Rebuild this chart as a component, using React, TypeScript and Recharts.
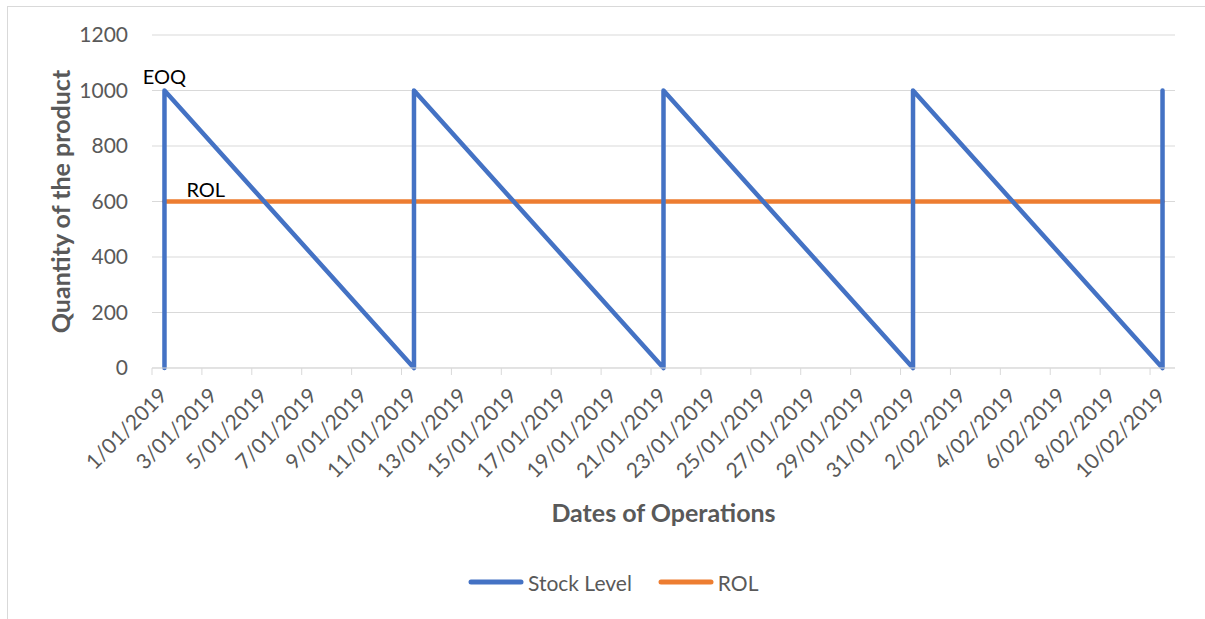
import React from "react";
import { LineChart, Line, XAxis, YAxis, CartesianGrid, ReferenceDot } from "recharts";

// day index 0 = 1/01/2019, 40 = 10/02/2019
const tickDays = [0, 2, 4, 6, 8, 10, 12, 14, 16, 18, 20, 22, 24, 26, 28, 30, 32, 34, 36, 38, 40];
const tickLabels = [
  "1/01/2019", "3/01/2019", "5/01/2019", "7/01/2019", "9/01/2019", "11/01/2019", "13/01/2019",
  "15/01/2019", "17/01/2019", "19/01/2019", "21/01/2019", "23/01/2019", "25/01/2019", "27/01/2019",
  "29/01/2019", "31/01/2019", "2/02/2019", "4/02/2019", "6/02/2019", "8/02/2019", "10/02/2019",
];

const stockDays = [0, 0, 10, 10, 20, 20, 30, 30, 40, 40];
const stockLevel = [0, 1000, 0, 1000, 0, 1000, 0, 1000, 0, 1000];

const rolDays = [0, 40];
const rolLevel = [600, 600];

const yTicks = [0, 200, 400, 600, 800, 1000, 1200];

const stockData = stockDays.map((d, i) => ({ day: d, stock: stockLevel[i] }));
const rolData = rolDays.map((d, i) => ({ day: d, rol: rolLevel[i] }));

const W = 1197;
const H = 612;
const M = { top: 28, right: 30, left: 0, bottom: 0 };
const Y_W = 144;
const X_H = 251;
const dayW = (W - M.right - Y_W) / 41;

const BLUE = "#4472C4";
const ORANGE = "#ED7D31";
const GREY = "#595959";
const FONT = "Lato, 'Open Sans', sans-serif";

const XTick = (props: any) => {
  const { x, y, payload } = props;
  const i = tickDays.indexOf(payload.value);
  const tx = x + 4;
  const ty = y + 29;
  return (
    <g>
      <line x1={x - dayW / 2} x2={x - dayW / 2} y1={y} y2={y + 7} stroke="#D9D9D9" strokeWidth={1} />
      <text
        x={tx}
        y={ty}
        textAnchor="end"
        transform={`rotate(-45, ${tx}, ${ty})`}
        fill={GREY}
        fontSize={21}
        fontFamily={FONT}
      >
        {tickLabels[i]}
      </text>
    </g>
  );
};

export default function App() {
  return (
    <div
      style={{
        position: "absolute",
        left: 7,
        top: 6,
        width: W,
        height: H,
        borderLeft: "1px solid #D9D9D9",
        borderTop: "1px solid #D9D9D9",
        background: "#fff",
      }}
    >
      <LineChart width={W} height={H} margin={M}>
        <CartesianGrid vertical={false} stroke="#D9D9D9" strokeWidth={1} />
        <XAxis
          dataKey="day"
          type="number"
          domain={[-0.5, 40.5]}
          ticks={tickDays}
          interval={0}
          height={X_H}
          tickSize={0}
          tickMargin={0}
          tickLine={false}
          axisLine={{ stroke: "#D9D9D9", strokeWidth: 1 }}
          tick={<XTick />}
          label={({ viewBox }: any) => (
            <text
              x={viewBox.x + viewBox.width / 2}
              y={viewBox.y + 144}
              textAnchor="middle"
              dominantBaseline="central"
              fill={GREY}
              fontSize={25}
              fontWeight="bold"
              fontFamily={FONT}
            >
              Dates of Operations
            </text>
          )}
        />
        <YAxis
          type="number"
          domain={[0, 1200]}
          ticks={yTicks}
          width={Y_W}
          axisLine={false}
          tickLine={false}
          tickSize={0}
          tickMargin={24}
          tick={{ fill: GREY, fontSize: 21, fontFamily: FONT }}
          label={({ viewBox }: any) => {
            const cx = 52;
            const cy = viewBox.y + viewBox.height / 2;
            return (
              <text
                x={cx}
                y={cy}
                transform={`rotate(-90, ${cx}, ${cy})`}
                textAnchor="middle"
                dominantBaseline="central"
                fill={GREY}
                fontSize={25}
                fontWeight="bold"
                fontFamily={FONT}
              >
                Quantity of the product
              </text>
            );
          }}
        />
        <Line
          data={rolData}
          dataKey="rol"
          name="ROL"
          type="linear"
          stroke={ORANGE}
          strokeWidth={4.5}
          strokeLinecap="round"
          dot={false}
          activeDot={false}
          isAnimationActive={false}
        />
        <Line
          data={stockData}
          dataKey="stock"
          name="Stock Level"
          type="linear"
          stroke={BLUE}
          strokeWidth={4.5}
          strokeLinecap="round"
          strokeLinejoin="round"
          dot={false}
          activeDot={false}
          isAnimationActive={false}
        />
        <ReferenceDot
          x={0}
          y={1000}
          r={0}
          stroke="none"
          label={({ viewBox }: any) => (
            <text x={viewBox.x} y={viewBox.y - 7} textAnchor="middle" fill="#000" fontSize={20} fontFamily={FONT}>
              EOQ
            </text>
          )}
        />
        <ReferenceDot
          x={0}
          y={600}
          r={0}
          stroke="none"
          label={({ viewBox }: any) => (
            <text x={viewBox.x + 22} y={viewBox.y - 5} textAnchor="start" fill="#000" fontSize={20} fontFamily={FONT}>
              ROL
            </text>
          )}
        />
      </LineChart>
      <div
        style={{
          position: "absolute",
          left: 460,
          top: 563,
          height: 24,
          display: "flex",
          alignItems: "center",
          fontFamily: FONT,
          fontSize: 21,
          color: GREY,
        }}
      >
        <svg width={56} height={6} style={{ marginRight: 4 }}>
          <line x1={3} y1={3} x2={53} y2={3} stroke={BLUE} strokeWidth={5} strokeLinecap="round" />
        </svg>
        <span style={{ marginRight: 26 }}>Stock Level</span>
        <svg width={56} height={6} style={{ marginRight: 4 }}>
          <line x1={3} y1={3} x2={53} y2={3} stroke={ORANGE} strokeWidth={5} strokeLinecap="round" />
        </svg>
        <span>ROL</span>
      </div>
    </div>
  );
}
